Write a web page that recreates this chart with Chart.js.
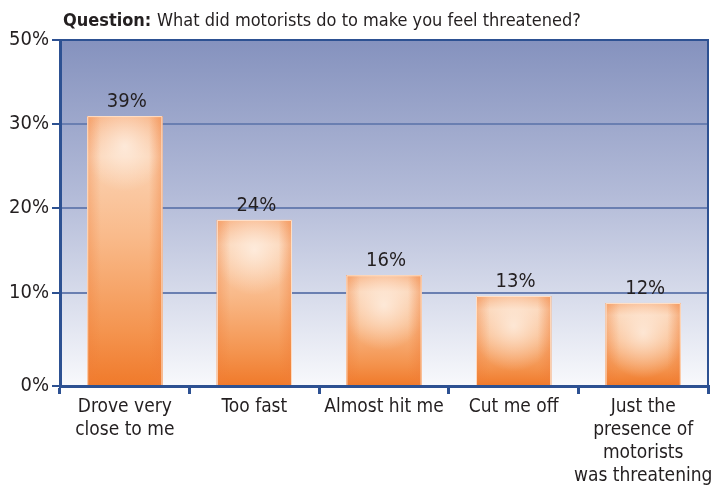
<!DOCTYPE html>
<html lang="en">
  <head>
    <meta charset="UTF-8" />
    <title>Motorists threatening</title>
    <script src="https://cdn.jsdelivr.net/npm/chart.js@4.4.0/dist/chart.umd.min.js"></script>
    <style>
      html, body { margin: 0; padding: 0; background: #fff; }
      canvas { display: block; }
    </style>
  </head>
  <body>
    <canvas id="myChart" width="720" height="487"></canvas>
    <script>
      // values
      const categories = [
        ["Drove very", "close to me"],
        "Too fast",
        "Almost hit me",
        "Cut me off",
        ["Just the", "presence of", "motorists", "was threatening"],
      ];
      const percents = [39, 24, 16, 13, 12];
      // the original puts its gridlines at these heights and labels them oddly
      const tickValues = [0, 13.5, 25.7, 37.9, 50];
      const tickLabels = ["0%", "10%", "20%", "30%", "50%"];

      const FONT = "'Liberation Sans Narrow', 'DejaVu Sans Condensed', 'Roboto', sans-serif";
      const axisBlue = "#2d5192";
      const gridBlue = "#6a7fb1";
      const textColor = "#231f20";

      const backdrop = {
        id: "backdrop",
        beforeDraw(chart) {
          const { ctx, chartArea: a } = chart;
          const g = ctx.createLinearGradient(0, a.top, 0, a.bottom);
          g.addColorStop(0, "#8592be");
          g.addColorStop(0.45, "#b3bbd8");
          g.addColorStop(1, "#f8f9fc");
          ctx.save();
          ctx.fillStyle = g;
          ctx.fillRect(a.left, a.top, a.right - a.left, a.bottom - a.top);
          ctx.restore();
        },
        afterDraw(chart) {
          const { ctx, chartArea: a } = chart;
          ctx.save();
          ctx.strokeStyle = axisBlue;
          ctx.lineWidth = 2;
          ctx.beginPath();
          ctx.moveTo(a.left, a.top);
          ctx.lineTo(a.right, a.top);
          ctx.lineTo(a.right, a.bottom);
          ctx.stroke();

          // title
          ctx.fillStyle = textColor;
          ctx.textBaseline = "alphabetic";
          ctx.font = "bold 18px " + FONT;
          const head = "Question:";
          ctx.fillText(head, 63, 26);
          const w = ctx.measureText(head + " ").width;
          ctx.font = "18px " + FONT;
          ctx.fillText("What did motorists do to make you feel threatened?", 63 + w, 26);
          ctx.restore();
        },
      };

      const barShade = {
        id: "barShade",
        afterDatasetsDraw(chart) {
          const { ctx } = chart;
          const meta = chart.getDatasetMeta(0);
          ctx.save();
          meta.data.forEach((bar, i) => {
            const left = bar.x - bar.width / 2;
            const top = bar.y;
            const h = bar.base - bar.y;
            const w = bar.width;

            const v = ctx.createLinearGradient(0, top, 0, bar.base);
            v.addColorStop(0, "#f8b486");
            v.addColorStop(0.15, "#fbd2b2");
            v.addColorStop(0.45, "#f9ba8a");
            v.addColorStop(0.8, "#f4944f");
            v.addColorStop(1, "#f07a2b");
            ctx.fillStyle = v;
            ctx.fillRect(left, top, w, h);

            const cy = top + Math.min(30, h * 0.38);
            ctx.save();
            ctx.beginPath();
            ctx.rect(left, top, w, h);
            ctx.clip();
            ctx.translate(bar.x, cy);
            ctx.scale(1, 1.1);
            const r = ctx.createRadialGradient(0, 0, 0, 0, 0, w * 0.55);
            r.addColorStop(0, "rgba(255,246,238,0.7)");
            r.addColorStop(0.5, "rgba(255,246,238,0.35)");
            r.addColorStop(1, "rgba(255,246,238,0)");
            ctx.fillStyle = r;
            ctx.fillRect(-w, -h, w * 2, h * 2);
            ctx.restore();

            const e = ctx.createLinearGradient(left, 0, left + w, 0);
            e.addColorStop(0, "rgba(240,125,55,0.35)");
            e.addColorStop(0.18, "rgba(240,125,55,0)");
            e.addColorStop(0.82, "rgba(240,125,55,0)");
            e.addColorStop(1, "rgba(240,125,55,0.45)");
            ctx.fillStyle = e;
            ctx.fillRect(left, top, w, h);

            ctx.strokeStyle = "rgba(255,230,210,0.9)";
            ctx.lineWidth = 1;
            ctx.beginPath();
            ctx.moveTo(left + 0.5, bar.base);
            ctx.lineTo(left + 0.5, top + 0.5);
            ctx.lineTo(left + w - 0.5, top + 0.5);
            ctx.lineTo(left + w - 0.5, bar.base);
            ctx.stroke();

            // value label
            ctx.fillStyle = textColor;
            ctx.font = "20px " + FONT;
            ctx.textAlign = "center";
            ctx.textBaseline = "alphabetic";
            ctx.fillText(percents[i] + "%", bar.x + 2, top - 9);
          });
          ctx.restore();
        },
      };

      const ctx = document.getElementById("myChart").getContext("2d");
      new Chart(ctx, {
        type: "bar",
        data: {
          labels: categories,
          datasets: [
            {
              data: percents,
              backgroundColor: "#f28c45",
              borderWidth: 0,
              categoryPercentage: 1,
              barPercentage: 0.58,
            },
          ],
        },
        options: {
          responsive: false,
          animation: false,
          layout: { padding: { top: 40, right: 12, left: 0, bottom: 0 } },
          plugins: { legend: { display: false }, tooltip: { enabled: false } },
          scales: {
            x: {
              grid: {
                offset: true,
                drawOnChartArea: false,
                drawTicks: true,
                tickLength: 8,
                color: axisBlue,
                lineWidth: 3,
              },
              border: { color: axisBlue, width: 3 },
              ticks: {
                color: textColor,
                font: { family: FONT, size: 19, lineHeight: 1.22 },
                padding: 1,
                maxRotation: 0,
                autoSkip: false,
              },
              afterFit(scale) {
                scale.height = 101;
              },
            },
            y: {
              min: 0,
              max: 50,
              afterBuildTicks(scale) {
                scale.ticks = tickValues.map((v) => ({ value: v }));
              },
              grid: {
                color: (c) => (c.index === tickValues.length - 1 ? axisBlue : gridBlue),
                lineWidth: 2,
                tickLength: 8,
                tickColor: axisBlue,
              },
              border: { color: axisBlue, width: 3 },
              ticks: {
                color: textColor,
                font: { family: FONT, size: 20 },
                padding: 3,
                callback: (value, index) => tickLabels[index],
              },
              afterFit(scale) {
                scale.width = 60;
              },
            },
          },
        },
        plugins: [backdrop, barShade],
      });
    </script>
  </body>
</html>
